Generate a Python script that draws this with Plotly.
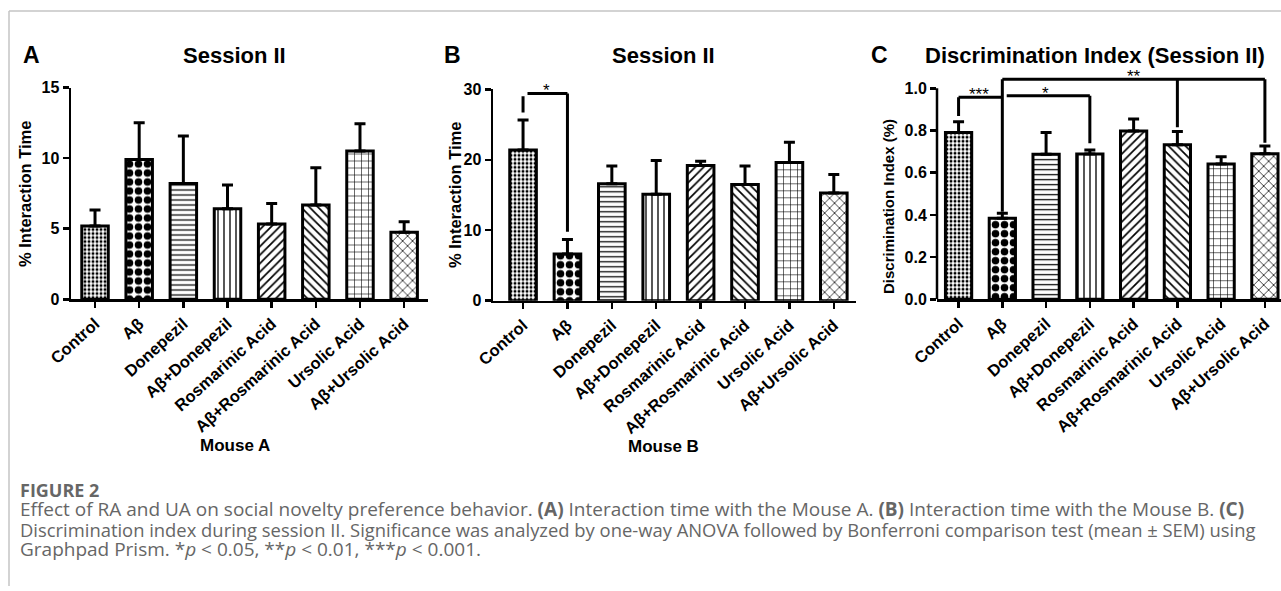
import plotly.graph_objects as go

# ---------------- data ----------------
categories = ["Control", "Aβ", "Donepezil", "Aβ+Donepezil", "Rosmarinic Acid",
              "Aβ+Rosmarinic Acid", "Ursolic Acid", "Aβ+Ursolic Acid"]

mouse_a_mean = [5.19, 9.9, 8.2, 6.42, 5.33, 6.67, 10.5, 4.74]
mouse_a_sem = [1.13, 2.6, 3.36, 1.67, 1.46, 2.65, 1.93, 0.76]

mouse_b_mean = [21.4, 6.63, 16.6, 15.1, 19.2, 16.5, 19.6, 15.3]
mouse_b_sem = [4.25, 2.07, 2.5, 4.8, 0.6, 2.6, 2.9, 2.6]

di_mean = [0.791, 0.384, 0.687, 0.689, 0.798, 0.733, 0.641, 0.690]
di_sem = [0.051, 0.024, 0.103, 0.019, 0.057, 0.062, 0.035, 0.037]

a_ticks = [0, 5, 10, 15]
b_ticks = [0, 10, 20, 30]
c_ticks = [0.0, 0.2, 0.4, 0.6, 0.8, 1.0]

# ---------------- styling ----------------
W, H = 1281, 591
pat_shape = [".", ".", "-", "|", "/", "\\", "+", "x"]
pat_size = [4, 9, 5, 6, 6, 6, 7, 7]
pat_solid = [0.45, 0.55, 0.25, 0.22, 0.28, 0.28, 0.16, 0.2]
FONT = "Liberation Sans, Arial, sans-serif"
xpos = list(range(len(categories)))


def px(x):
    return x / W


def py(y):
    return 1 - y / H


fig = go.Figure()


def add_bars(mean, sem, xa, ya):
    fig.add_trace(go.Bar(
        x=xpos, y=mean, xaxis=xa, yaxis=ya, width=0.6,
        marker=dict(color="white", line=dict(color="black", width=3),
                    pattern=dict(shape=pat_shape, size=pat_size, solidity=pat_solid,
                                 fgcolor="black", bgcolor="white", fillmode="replace")),
        error_y=dict(type="data", symmetric=False, array=sem, arrayminus=[0] * len(sem),
                     thickness=3, width=5.5, color="black"),
        showlegend=False, hoverinfo="skip"))


add_bars(mouse_a_mean, mouse_a_sem, "x", "y")
add_bars(mouse_b_mean, mouse_b_sem, "x2", "y2")
add_bars(di_mean, di_sem, "x3", "y3")

ytickfont = dict(family=FONT, size=16, color="black", weight="bold")
xtickfont = dict(family=FONT, size=16.5, color="black", weight="bold")
xcommon = dict(tickmode="array", tickvals=xpos, ticktext=categories, tickangle=-42,
               showline=True, linecolor="black", linewidth=2.5, ticks="outside",
               ticklen=6, tickwidth=2.5, tickcolor="black", showgrid=False,
               zeroline=False, tickfont=xtickfont, fixedrange=True, automargin=False)
ycommon = dict(showgrid=False, zeroline=False, ticks="outside", ticklen=6, tickwidth=2.5,
               tickcolor="black", linecolor="black", linewidth=2.5, tickfont=ytickfont,
               tickmode="array", fixedrange=True, automargin=False)

fig.update_layout(
    template="none",
    width=W, height=H, margin=dict(l=0, r=0, t=0, b=0, pad=0, autoexpand=False),
    paper_bgcolor="white", plot_bgcolor="white", bargap=0,
    xaxis=dict(domain=[px(71), px(428)], range=[-0.544, 7.54], anchor="y", **xcommon),
    yaxis=dict(domain=[py(299.3), py(87.5)], range=[0, 15], tickvals=a_ticks,
               showline=True, anchor="x", **ycommon),
    xaxis2=dict(domain=[px(493), px(856)], range=[-0.677, 7.50], anchor="y2", **xcommon),
    yaxis2=dict(domain=[py(300.7), py(89.3)], range=[0, 30], tickvals=b_ticks,
                showline=True, anchor="x2", **ycommon),
    xaxis3=dict(domain=[px(937), 1.0], range=[-0.493, 7.368], anchor="y3", **xcommon),
    yaxis3=dict(domain=[py(299.3), py(67.2)], range=[0, 1.1], tickvals=c_ticks,
                tickformat=".1f", showline=False, anchor="x3", **ycommon),
)

shapes = []
line = dict(color="black", width=3)
# y spine for panel C (ends at the top tick)
shapes.append(dict(type="line", xref="x3 domain", yref="y3", x0=0, x1=0, y0=0, y1=1.0,
                   line=dict(color="black", width=2.5)))
# panel B bracket
shapes += [
    dict(type="line", xref="x2", yref="y2", x0=0, x1=0, y0=26.7, y1=29.0, line=line),
    dict(type="line", xref="x2", yref="y2", x0=0.1, x1=1, y0=29.4, y1=29.4, line=line),
    dict(type="line", xref="x2", yref="y2", x0=1, x1=1, y0=29.4, y1=9.8, line=line),
]
# panel C brackets
shapes += [
    dict(type="line", xref="x3", yref="y3", x0=0, x1=0, y0=0.869, y1=0.957, line=line),
    dict(type="line", xref="x3", yref="y3", x0=0, x1=1, y0=0.957, y1=0.957, line=line),
    dict(type="line", xref="x3", yref="y3", x0=1, x1=1, y0=0.415, y1=1.043, line=line),
    dict(type="line", xref="x3", yref="y3", x0=1.1, x1=3, y0=0.965, y1=0.965, line=line),
    dict(type="line", xref="x3", yref="y3", x0=3, x1=3, y0=0.965, y1=0.74, line=line),
    dict(type="line", xref="x3", yref="y3", x0=1, x1=7, y0=1.043, y1=1.043, line=line),
    dict(type="line", xref="x3", yref="y3", x0=5, x1=5, y0=1.043, y1=0.815, line=line),
    dict(type="line", xref="x3", yref="y3", x0=7, x1=7, y0=1.043, y1=0.742, line=line),
]
# frame lines
frame = dict(color="#c4c4c4", width=1.5)
shapes += [
    dict(type="line", xref="paper", yref="paper", x0=px(9), x1=1, y0=py(11), y1=py(11), line=frame),
    dict(type="line", xref="paper", yref="paper", x0=px(9), x1=px(9), y0=py(11), y1=py(586), line=frame),
]
fig.update_layout(shapes=shapes)

ann = []


def text(x, y, s, size, angle=0, color="black", xanchor="center", family=FONT, weight="normal"):
    ann.append(dict(x=px(x), y=py(y), xref="paper", yref="paper", text=s, showarrow=False,
                    font=dict(family=family, size=size, color=color, weight=weight),
                    textangle=angle, xanchor=xanchor, yanchor="middle"))


text(31, 55, "<b>A</b>", 23)
text(452, 55, "<b>B</b>", 23)
text(879, 55, "<b>C</b>", 23)
text(234, 56, "<b>Session II</b>", 22)
text(663, 56, "<b>Session II</b>", 22)
text(1095, 56, "<b>Discrimination Index (Session II)</b>", 22)
text(25, 194, "<b>% Interaction Time</b>", 16.5, angle=-90)
text(455, 195, "<b>% Interaction Time</b>", 16.5, angle=-90)
text(888, 207, "<b>Discrimination Index (%)</b>", 15, angle=-90)
text(235, 445, "<b>Mouse A</b>", 17)
text(663, 446, "<b>Mouse B</b>", 17)


# significance labels (centre of the text box in data coordinates)
def star(xa, ya, x, y, s):
    ann.append(dict(x=x, y=y, xref=xa, yref=ya, text=s, showarrow=False,
                    font=dict(family=FONT, size=17, color="black"),
                    xanchor="center", yanchor="middle"))


star("x2", "y2", 0.53, 29.8, "*")
star("x3", "y3", 0.46, 0.970, "***")
star("x3", "y3", 1.98, 0.976, "*")
star("x3", "y3", 4.0, 1.058, "**")

CAP = "Open Sans, sans-serif"
CAPC = "#666666"
text(18, 490, "FIGURE 2", 18, color=CAPC, xanchor="left", family=CAP, weight="bold")
text(18, 509, "Effect of RA and UA on social novelty preference behavior. <b>(A)</b> Interaction time with the Mouse A. "
     "<b>(B)</b> Interaction time with the Mouse B. <b>(C)</b>", 19, color=CAPC, xanchor="left", family=CAP)
text(18, 529, "Discrimination index during session II. Significance was analyzed by one-way ANOVA followed by "
     "Bonferroni comparison test (mean ± SEM) using", 18.4, color=CAPC, xanchor="left", family=CAP)
text(18, 549, "Graphpad Prism. *<i>p</i> &lt; 0.05, **<i>p</i> &lt; 0.01, ***<i>p</i> &lt; 0.001.", 19,
     color=CAPC, xanchor="left", family=CAP)

fig.update_layout(annotations=ann)
fig.write_html("out.html", config={"displayModeBar": False, "staticPlot": True},
               post_script="document.body.style.margin='0';document.body.style.overflow='hidden';")
